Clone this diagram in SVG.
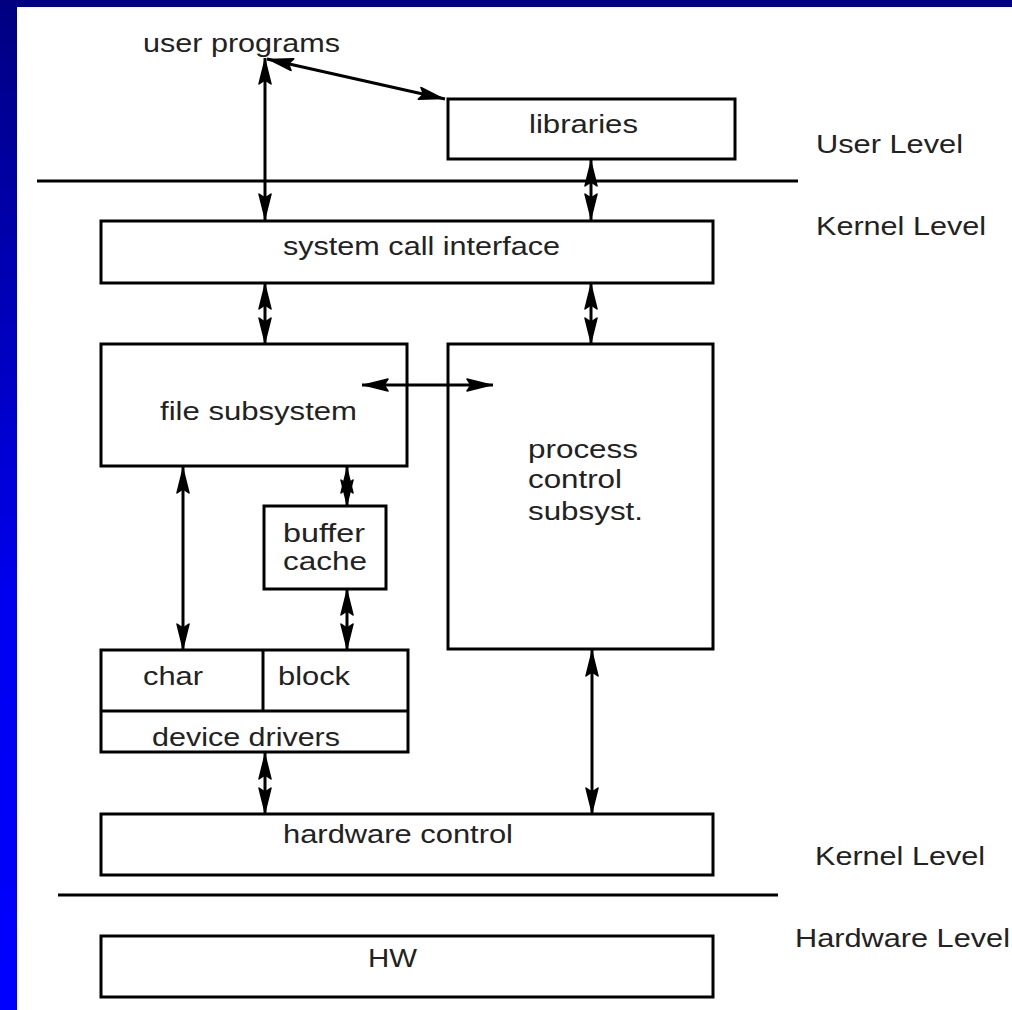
<svg xmlns="http://www.w3.org/2000/svg" width="1012" height="1010" viewBox="0 0 1012 1010">
<style>
.box{fill:#fff;stroke:#000;stroke-width:3}
.ln{stroke:#000;stroke-width:3;fill:none}
.t{font-family:"Liberation Sans",Arial,sans-serif;font-size:25px;fill:#222}
</style>
<defs>
<linearGradient id="side" x1="0" y1="0" x2="0" y2="1">
<stop offset="0" stop-color="#000080"/>
<stop offset="0.6" stop-color="#0000f0"/>
<stop offset="1" stop-color="#0000ff"/>
</linearGradient>
<marker id="ah" markerUnits="userSpaceOnUse" markerWidth="30" markerHeight="14" viewBox="0 0 30 14" refX="27" refY="7" orient="auto-start-reverse">
<path d="M25,7 L1,1 L5,7 L1,13 Z" fill="#000" stroke="#000" stroke-width="1.5" stroke-linejoin="round"/>
</marker>
</defs>
<rect x="0" y="0" width="1012" height="1010" fill="#fff"/>
<rect x="0" y="0" width="17" height="1010" fill="url(#side)"/>
<rect x="0" y="0" width="1012" height="7" fill="#000080"/>

<g id="level-lines">
<line class="ln" x1="37" y1="181" x2="798" y2="181"/>
<line class="ln" x1="58" y1="895" x2="778" y2="895"/>
</g>

<g id="user-programs">
<text class="t" x="143" y="52" textLength="197" lengthAdjust="spacingAndGlyphs">user programs</text>
</g>
<g id="libraries">
<rect class="box" x="448" y="99" width="287" height="60"/>
<text class="t" x="529" y="133" textLength="109" lengthAdjust="spacingAndGlyphs">libraries</text>
</g>
<g id="system-call-interface">
<rect class="box" x="101" y="221" width="612" height="62"/>
<text class="t" x="283" y="255" textLength="277" lengthAdjust="spacingAndGlyphs">system call interface</text>
</g>
<g id="file-subsystem">
<rect class="box" x="101" y="344" width="306" height="122"/>
<text class="t" x="160" y="420" textLength="197" lengthAdjust="spacingAndGlyphs">file subsystem</text>
</g>
<g id="process-control">
<rect class="box" x="448" y="344" width="265" height="305"/>
<text class="t" x="528" y="458" textLength="110" lengthAdjust="spacingAndGlyphs">process</text>
<text class="t" x="528" y="488" textLength="94" lengthAdjust="spacingAndGlyphs">control</text>
<text class="t" x="528" y="520" textLength="115" lengthAdjust="spacingAndGlyphs">subsyst.</text>
</g>
<g id="buffer-cache">
<rect class="box" x="264" y="506" width="122" height="83"/>
<text class="t" x="283" y="542" textLength="82" lengthAdjust="spacingAndGlyphs">buffer</text>
<text class="t" x="283" y="570" textLength="84" lengthAdjust="spacingAndGlyphs">cache</text>
</g>
<g id="device-drivers">
<rect class="box" x="101" y="650" width="307" height="102"/>
<line class="ln" x1="101" y1="711" x2="408" y2="711"/>
<line class="ln" x1="263" y1="650" x2="263" y2="711"/>
<text class="t" x="143" y="685" textLength="60" lengthAdjust="spacingAndGlyphs">char</text>
<text class="t" x="278" y="685" textLength="72" lengthAdjust="spacingAndGlyphs">block</text>
<text class="t" x="152" y="746" textLength="188" lengthAdjust="spacingAndGlyphs">device drivers</text>
</g>
<g id="hardware-control">
<rect class="box" x="101" y="814" width="612" height="61"/>
<text class="t" x="283" y="843" textLength="230" lengthAdjust="spacingAndGlyphs">hardware control</text>
</g>
<g id="hw">
<rect class="box" x="101" y="936" width="612" height="61"/>
<text class="t" x="368" y="967" textLength="49" lengthAdjust="spacingAndGlyphs">HW</text>
</g>
<g id="level-labels">
<text class="t" x="816" y="153" textLength="147" lengthAdjust="spacingAndGlyphs">User Level</text>
<text class="t" x="816" y="235" textLength="170" lengthAdjust="spacingAndGlyphs">Kernel Level</text>
<text class="t" x="815" y="865" textLength="170" lengthAdjust="spacingAndGlyphs">Kernel Level</text>
<text class="t" x="795" y="947" textLength="215" lengthAdjust="spacingAndGlyphs">Hardware Level</text>
</g>

<g id="connectors">
<line class="ln" x1="265" y1="58" x2="265" y2="220" marker-start="url(#ah)" marker-end="url(#ah)"/>
<line class="ln" x1="267" y1="59" x2="445" y2="99" marker-start="url(#ah)" marker-end="url(#ah)"/>
<line class="ln" x1="591" y1="160" x2="591" y2="220" marker-start="url(#ah)" marker-end="url(#ah)"/>
<line class="ln" x1="265" y1="283" x2="265" y2="344" marker-start="url(#ah)" marker-end="url(#ah)"/>
<line class="ln" x1="591" y1="283" x2="591" y2="344" marker-start="url(#ah)" marker-end="url(#ah)"/>
<line class="ln" x1="362" y1="385" x2="493" y2="385" marker-start="url(#ah)" marker-end="url(#ah)"/>
<line class="ln" x1="183" y1="467" x2="183" y2="650" marker-start="url(#ah)" marker-end="url(#ah)"/>
<line class="ln" x1="347" y1="467" x2="347" y2="506" marker-start="url(#ah)" marker-end="url(#ah)"/>
<line class="ln" x1="347" y1="589" x2="347" y2="650" marker-start="url(#ah)" marker-end="url(#ah)"/>
<line class="ln" x1="265" y1="753" x2="265" y2="814" marker-start="url(#ah)" marker-end="url(#ah)"/>
<line class="ln" x1="592" y1="650" x2="592" y2="814" marker-start="url(#ah)" marker-end="url(#ah)"/>
</g>
</svg>
